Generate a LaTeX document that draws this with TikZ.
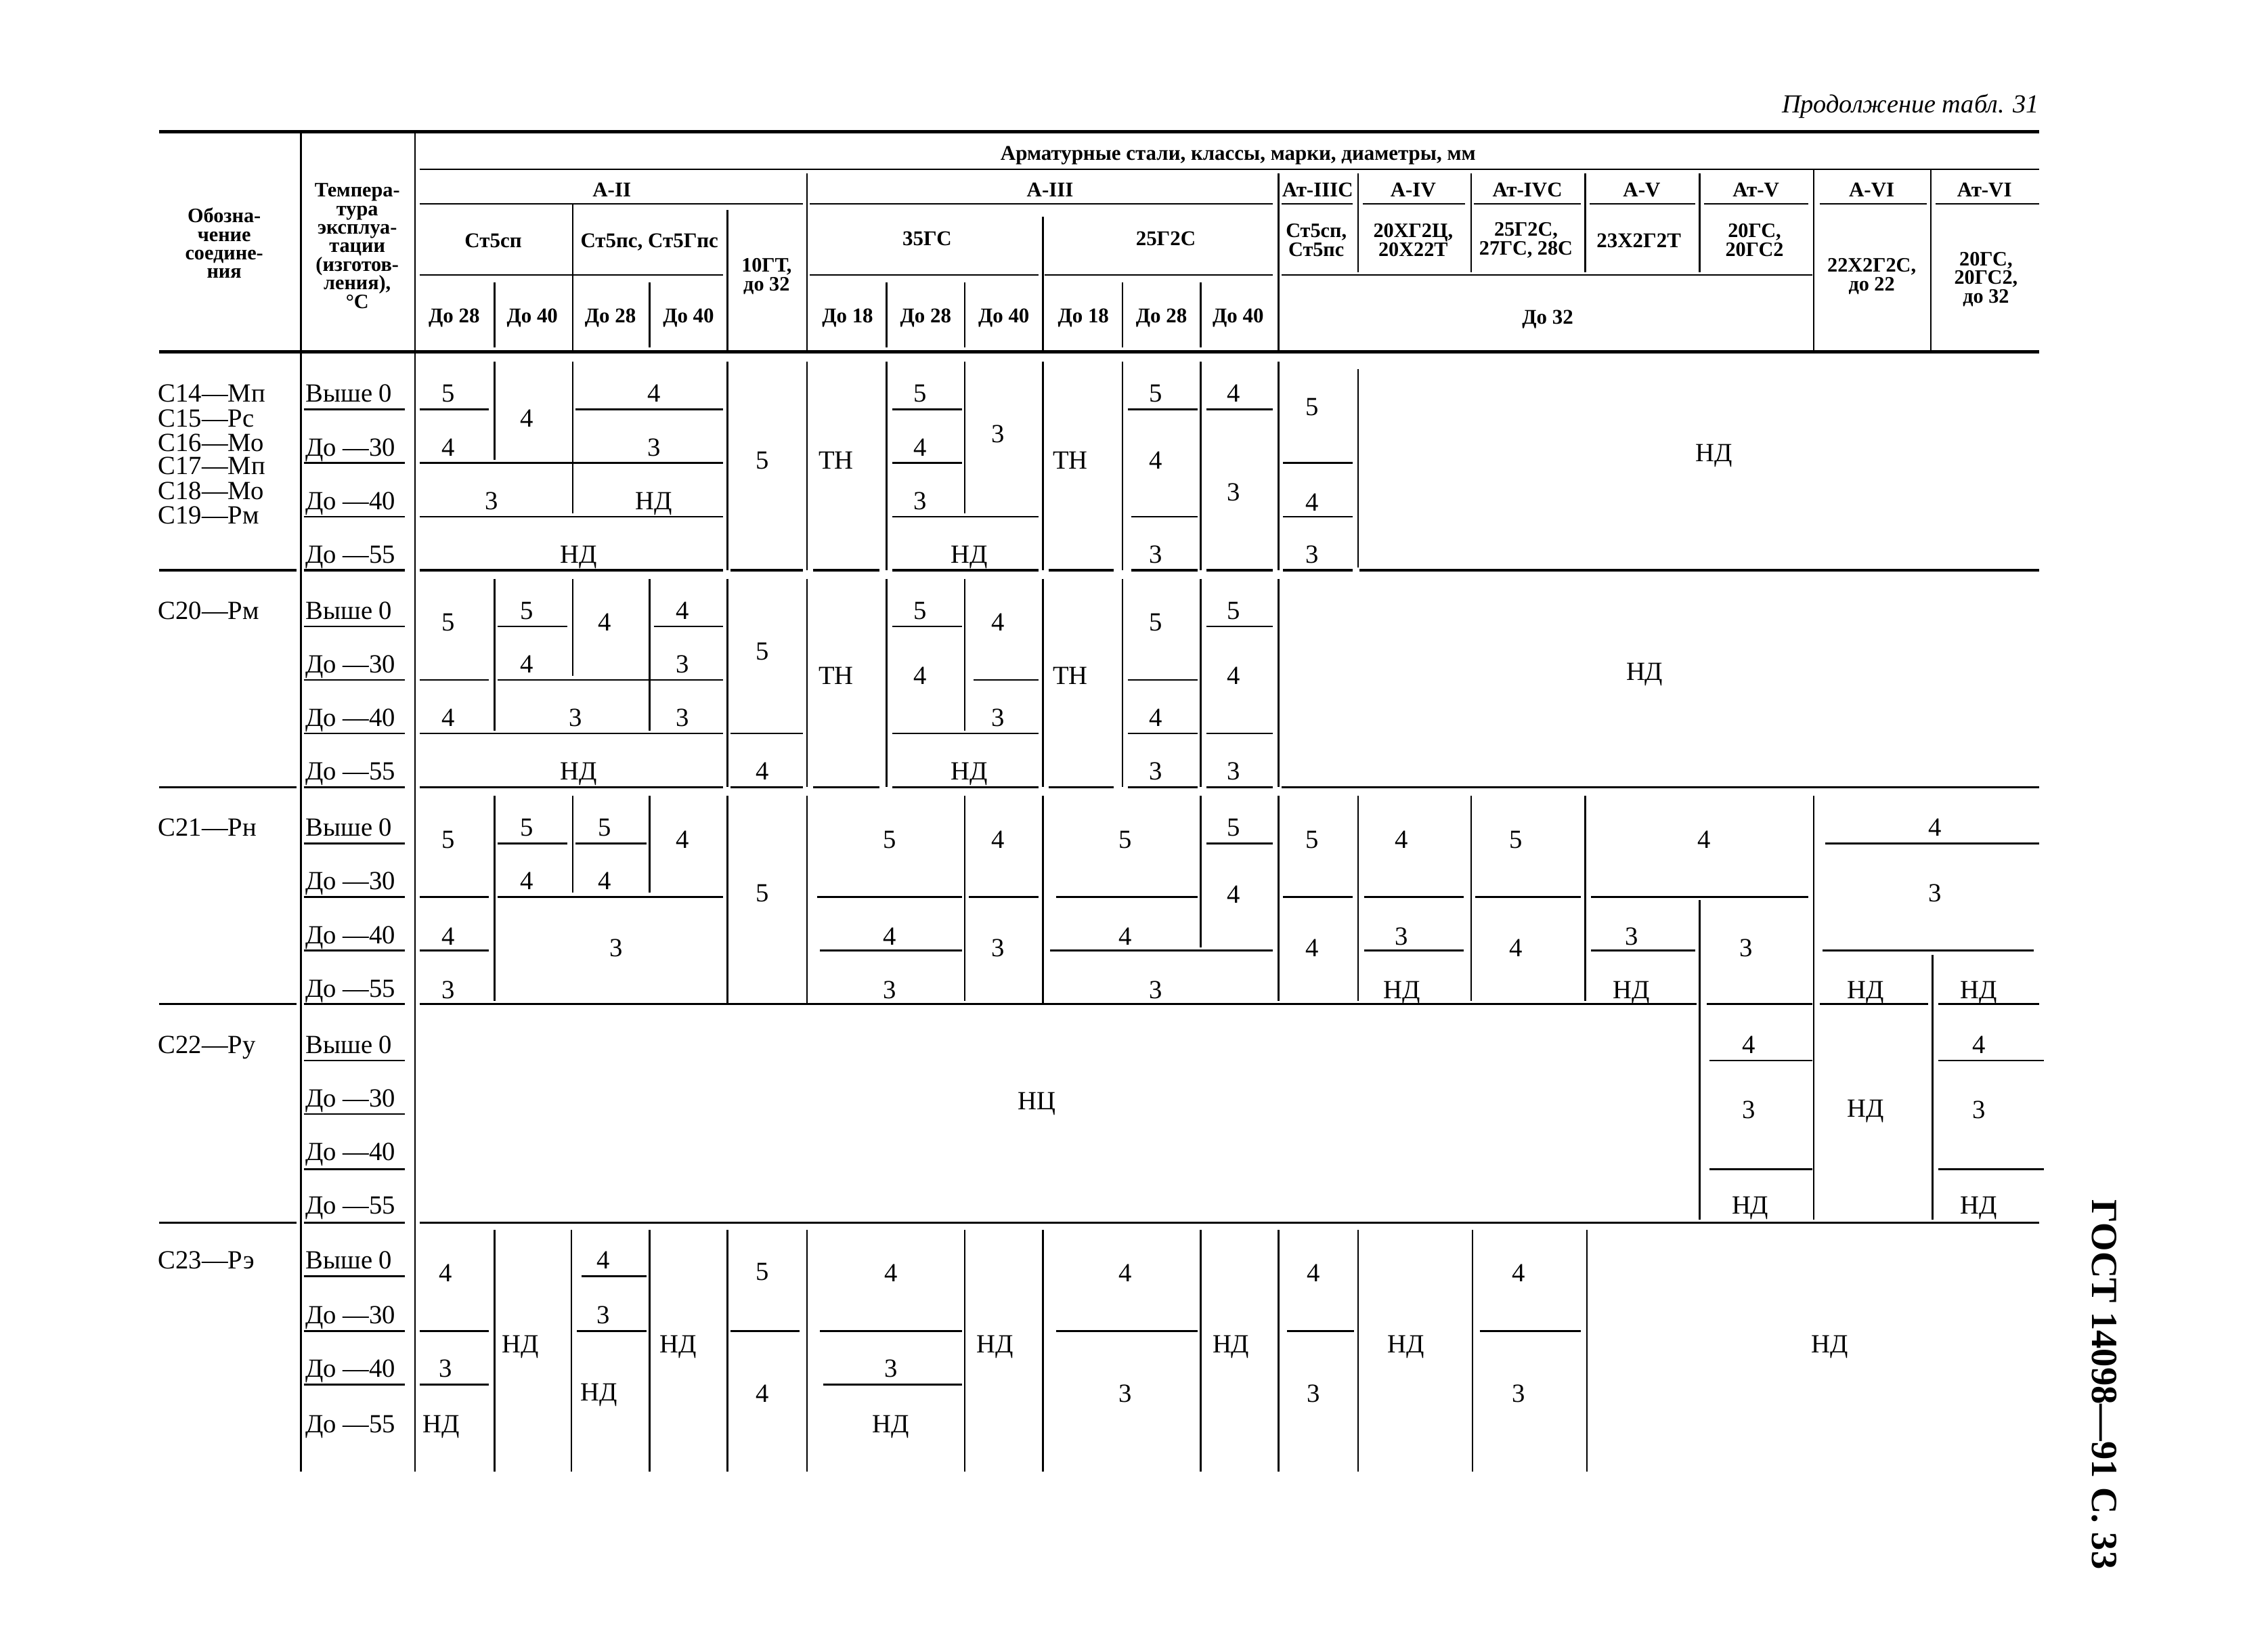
\documentclass[tikz,border=0pt]{standalone}
\usepackage{fontspec}
\setmainfont{Liberation Serif}
\newcounter{cn}
\tikzset{
  rl/.style={line width=0.7pt},
  bl/.style={line width=1.0pt},
  tk/.style={line width=1.5pt},
  cell/.style={inner sep=0pt, font=\fontsize{11}{12}\selectfont, text height=7.3pt, text depth=0pt},
  lab/.style={cell, anchor=west},
  hdc/.style={inner sep=0pt, font=\bfseries\fontsize{8.8}{9.4}\selectfont, text height=5.9pt, text depth=0pt},
  hdm/.style={inner sep=0pt, font=\bfseries\fontsize{8.6}{7.8}\selectfont, align=center},
}
\newcommand\tHL[3]{\draw[rl] (#1,#3) -- (#2,#3);}
\newcommand\tBL[3]{\draw[bl] (#1,#3) -- (#2,#3);}
\newcommand\tVL[3]{\draw[rl] (#1,#2) -- (#1,#3);}
\newcommand\tCell[3]{\stepcounter{cn}\node[cell] (c\thecn) at (#1,#2) {#3};}
\newcommand\tLab[3]{\stepcounter{cn}\node[lab] (c\thecn) at (#1,#2) {#3};}
\newcommand\tHd[3]{\stepcounter{cn}\node[hdc] (c\thecn) at (#1,#2) {#3};}
\newcommand\tHm[3]{\stepcounter{cn}\node[hdm] (c\thecn) at (#1,#2) {#3};}
\begin{document}
\begin{tikzpicture}[x=0.021365cm, y=-0.021365cm]
\useasboundingbox (0,0) rectangle (1568,1138);
% title
\node[inner sep=0pt, anchor=east, font=\itshape\fontsize{10.9}{12}\selectfont, text height=7.3pt, text depth=0pt] (title) at (1410,72) {Продолжение табл. 31};
% ---------- header ----------
\draw[tk] (110,91) -- (1410,91);
\draw[tk] (110,243) -- (1410,243);
\tVL{208}{91}{1017}
\tVL{287}{91}{1017}
\tHm{155}{168}{Обозна-\\чение\\соедине-\\ния}
\tHm{247}{170}{Темпера-\\тура\\эксплуа-\\тации\\(изготов-\\ления),\\°С}
\tHd{856}{106}{Арматурные стали, классы, марки, диаметры, мм}
\tHL{290}{1410}{117}
% class row
\tVL{558}{120}{243} \tVL{884}{120}{243}
\tVL{939}{120}{188} \tVL{1017}{120}{188} \tVL{1096}{120}{188} \tVL{1175}{120}{188}
\tVL{1254}{117}{243} \tVL{1335}{117}{243}
\tHd{423}{131}{А-II} \tHd{726}{131}{А-III} \tHd{911}{131}{Ат-IIIС}
\tHd{977}{131}{А-IV} \tHd{1056}{131}{Ат-IVС} \tHd{1135}{131}{А-V}
\tHd{1214}{131}{Ат-V} \tHd{1294}{131}{А-VI} \tHd{1372}{131}{Ат-VI}
\tHL{290}{555}{141} \tHL{560}{880}{141} \tHL{886}{935}{141} \tHL{942}{1013}{141}
\tHL{1019}{1093}{141} \tHL{1099}{1172}{141} \tHL{1178}{1250}{141}
\tHL{1258}{1332}{141} \tHL{1338}{1410}{141}
% grade row
\tVL{396}{141}{243} \tVL{503}{145}{243} \tVL{721}{150}{243}
\tHd{341}{166}{Ст5сп} \tHd{449}{166}{Ст5пс, Ст5Гпс}
\tHm{530}{191}{10ГТ,\\до 32}
\tHd{641}{165}{35ГС} \tHd{806}{165}{25Г2С}
\tHm{910}{166}{Ст5сп,\\Ст5пс} \tHm{977}{166}{20ХГ2Ц,\\20Х22Т}
\tHm{1055}{166}{25Г2С,\\27ГС, 28С} \tHd{1133}{166}{23Х2Г2Т}
\tHm{1213}{166}{20ГС,\\20ГС2}
\tHm{1294}{191}{22Х2Г2С,\\до 22} \tHm{1373}{193}{20ГС,\\20ГС2,\\до 32}
\tHL{290}{500}{190} \tHL{560}{718}{190} \tHL{722}{880}{190} \tHL{886}{1253}{190}
% size row
\tVL{342}{195}{240} \tVL{449}{195}{240} \tVL{613}{195}{240} \tVL{667}{195}{240}
\tVL{776}{195}{240} \tVL{830}{195}{240}
\tHd{314}{218}{До 28} \tHd{368}{218}{До 40} \tHd{422}{218}{До 28} \tHd{476}{218}{До 40}
\tHd{586}{218}{До 18} \tHd{640}{218}{До 28} \tHd{694}{218}{До 40}
\tHd{749}{218}{До 18} \tHd{803}{218}{До 28} \tHd{856}{218}{До 40}
\tHd{1070}{219}{До 32}
% ---------- body: common ----------
\foreach \y in {283,320,357,433,470,507,583,620,657,733,770,808,882,920,957} {\draw[rl] (210,\y) -- (280,\y);}
\foreach \b in {0,150,300,450} {
  \pgfmathsetmacro{\ya}{272+\b}\pgfmathsetmacro{\yb}{309+\b}\pgfmathsetmacro{\yc}{346+\b}\pgfmathsetmacro{\yd}{383+\b}
  \tLab{211}{\ya}{Выше 0} \tLab{211}{\yb}{До —30} \tLab{211}{\yc}{До —40} \tLab{211}{\yd}{До —55}
}
\tLab{211}{871}{Выше 0} \tLab{211}{909}{До —30} \tLab{211}{946}{До —40} \tLab{211}{984}{До —55}
\tLab{109}{272}{С14—Мп} \tLab{109}{289}{С15—Рс} \tLab{109}{306}{С16—Мо}
\tLab{109}{322}{С17—Мп} \tLab{109}{339}{С18—Мо} \tLab{109}{356}{С19—Рм}
\tLab{109}{422}{С20—Рм} \tLab{109}{572}{С21—Рн} \tLab{109}{722}{С22—Ру} \tLab{109}{871}{С23—Рэ}
% block separators
\tBL{110}{205}{394} \tBL{210}{280}{394} \tBL{290}{500}{394} \tBL{505}{555}{394} \tBL{562}{608}{394}
\tBL{617}{718}{394} \tBL{725}{770}{394} \tBL{782}{828}{394} \tBL{834}{880}{394} \tBL{887}{935}{394} \tBL{940}{1410}{394}
\tBL{110}{205}{544} \tBL{210}{280}{544} \tBL{290}{500}{544} \tBL{505}{555}{544} \tBL{562}{608}{544}
\tBL{617}{718}{544} \tBL{725}{770}{544} \tBL{780}{828}{544} \tBL{834}{880}{544} \tBL{886}{1410}{544}
\tBL{110}{205}{694} \tBL{210}{280}{694} \tBL{290}{1173}{694} \tBL{1180}{1253}{694} \tBL{1258}{1333}{694} \tBL{1340}{1410}{694}
\tBL{110}{205}{845} \tBL{210}{280}{845} \tBL{290}{1410}{845}
% ---------- block 1 ----------
\tVL{342}{250}{318} \tVL{396}{250}{355} \tVL{503}{250}{394} \tVL{558}{250}{394} \tVL{613}{250}{394}
\tVL{667}{250}{355} \tVL{721}{250}{394} \tVL{776}{250}{394} \tVL{830}{250}{394} \tVL{884}{250}{394} \tVL{939}{255}{392}
\tHL{290}{338}{283} \tHL{398}{500}{283} \tHL{290}{500}{320} \tHL{290}{500}{357}
\tHL{617}{665}{283} \tHL{617}{665}{320} \tHL{617}{718}{357}
\tHL{780}{828}{283} \tHL{782}{828}{357} \tHL{834}{880}{283}
\tHL{887}{935}{320} \tHL{887}{935}{357}
\tCell{310}{272}{5} \tCell{310}{309}{4} \tCell{364}{289}{4} \tCell{452}{272}{4} \tCell{452}{309}{3}
\tCell{340}{346}{3} \tCell{452}{346}{НД} \tCell{400}{383}{НД}
\tCell{527}{318}{5} \tCell{578}{318}{ТН}
\tCell{636}{272}{5} \tCell{636}{309}{4} \tCell{636}{346}{3} \tCell{690}{300}{3} \tCell{670}{383}{НД}
\tCell{740}{318}{ТН}
\tCell{799}{272}{5} \tCell{799}{318}{4} \tCell{799}{383}{3} \tCell{853}{272}{4} \tCell{853}{340}{3}
\tCell{907}{281}{5} \tCell{907}{347}{4} \tCell{907}{383}{3}
\tCell{1185}{313}{НД}
% ---------- block 2 ----------
\tVL{342}{400}{505} \tVL{396}{400}{467} \tVL{449}{400}{505} \tVL{503}{400}{544} \tVL{558}{400}{544}
\tVL{613}{400}{544} \tVL{667}{400}{505} \tVL{721}{400}{544} \tVL{776}{400}{544} \tVL{830}{400}{544} \tVL{884}{400}{544}
\tHL{290}{338}{470} \tHL{344}{392}{433} \tHL{344}{500}{470} \tHL{452}{500}{433} \tHL{290}{500}{507}
\tHL{505}{555}{507}
\tHL{617}{665}{433} \tHL{673}{718}{470} \tHL{617}{718}{507}
\tHL{780}{828}{470} \tHL{780}{828}{507} \tHL{834}{880}{433} \tHL{834}{880}{507}
\tCell{310}{430}{5} \tCell{310}{496}{4} \tCell{364}{422}{5} \tCell{364}{459}{4} \tCell{418}{430}{4}
\tCell{472}{422}{4} \tCell{472}{459}{3} \tCell{398}{496}{3} \tCell{472}{496}{3} \tCell{400}{533}{НД}
\tCell{527}{450}{5} \tCell{527}{533}{4} \tCell{578}{467}{ТН}
\tCell{636}{422}{5} \tCell{636}{467}{4} \tCell{690}{430}{4} \tCell{690}{496}{3} \tCell{670}{533}{НД}
\tCell{740}{467}{ТН}
\tCell{799}{430}{5} \tCell{799}{496}{4} \tCell{799}{533}{3}
\tCell{853}{422}{5} \tCell{853}{467}{4} \tCell{853}{533}{3}
\tCell{1137}{464}{НД}
% ---------- block 3 ----------
\tVL{342}{550}{692} \tVL{396}{550}{617} \tVL{449}{550}{617} \tVL{503}{550}{694} \tVL{558}{550}{694}
\tVL{667}{550}{692} \tVL{721}{550}{694} \tVL{830}{550}{655} \tVL{884}{550}{692} \tVL{939}{550}{692}
\tVL{1017}{550}{692} \tVL{1096}{550}{692} \tVL{1175}{622}{843} \tVL{1254}{550}{843} \tVL{1336}{660}{843}
\tHL{290}{338}{620} \tHL{290}{338}{657} \tHL{344}{392}{583} \tHL{398}{447}{583} \tHL{344}{500}{620}
\tHL{565}{665}{620} \tHL{567}{665}{657} \tHL{670}{718}{620}
\tHL{730}{828}{620} \tHL{726}{880}{657} \tHL{834}{880}{583}
\tHL{887}{935}{620} \tHL{943}{1012}{620} \tHL{943}{1012}{657} \tHL{1020}{1093}{620}
\tHL{1100}{1250}{620} \tHL{1100}{1172}{657}
\tHL{1262}{1410}{583} \tHL{1260}{1406}{657}
\tCell{310}{580}{5} \tCell{310}{647}{4} \tCell{310}{684}{3} \tCell{364}{572}{5} \tCell{364}{609}{4}
\tCell{418}{572}{5} \tCell{418}{609}{4} \tCell{472}{580}{4} \tCell{426}{655}{3}
\tCell{527}{617}{5}
\tCell{615}{580}{5} \tCell{615}{647}{4} \tCell{615}{684}{3} \tCell{690}{580}{4} \tCell{690}{655}{3}
\tCell{778}{580}{5} \tCell{778}{647}{4} \tCell{799}{684}{3} \tCell{853}{572}{5} \tCell{853}{618}{4}
\tCell{907}{580}{5} \tCell{907}{655}{4}
\tCell{969}{580}{4} \tCell{969}{647}{3} \tCell{969}{684}{НД}
\tCell{1048}{580}{5} \tCell{1048}{655}{4}
\tCell{1178}{580}{4} \tCell{1128}{647}{3} \tCell{1128}{684}{НД} \tCell{1207}{655}{3}
\tCell{1338}{572}{4} \tCell{1338}{617}{3} \tCell{1290}{684}{НД} \tCell{1368}{684}{НД}
% ---------- block 4 ----------
\tHL{1182}{1253}{733} \tHL{1182}{1253}{808} \tHL{1340}{1413}{733} \tHL{1340}{1413}{808}
\tCell{717}{761}{НЦ}
\tCell{1209}{722}{4} \tCell{1209}{767}{3} \tCell{1210}{833}{НД}
\tCell{1290}{766}{НД}
\tCell{1368}{722}{4} \tCell{1368}{767}{3} \tCell{1368}{833}{НД}
% ---------- block 5 ----------
\foreach \x in {342,395,449,503,558,667,721,830,884,939,1018,1097} {\draw[rl] (\x,850) -- (\x,1017);}
\tHL{290}{338}{920} \tHL{290}{338}{957} \tHL{402}{447}{882} \tHL{399}{447}{920}
\tHL{505}{553}{920} \tHL{567}{665}{920} \tHL{569}{665}{957} \tHL{730}{828}{920}
\tHL{890}{936}{920} \tHL{1023}{1093}{920}
\tCell{308}{880}{4} \tCell{308}{946}{3} \tCell{305}{984}{НД} \tCell{360}{929}{НД}
\tCell{417}{871}{4} \tCell{417}{909}{3} \tCell{414}{962}{НД} \tCell{469}{929}{НД}
\tCell{527}{879}{5} \tCell{527}{963}{4}
\tCell{616}{880}{4} \tCell{616}{946}{3} \tCell{616}{984}{НД} \tCell{688}{929}{НД}
\tCell{778}{880}{4} \tCell{778}{963}{3} \tCell{851}{929}{НД}
\tCell{908}{880}{4} \tCell{908}{963}{3} \tCell{972}{929}{НД}
\tCell{1050}{880}{4} \tCell{1050}{963}{3}
\tCell{1265}{929}{НД}
% side text
\node[inner sep=0pt, rotate=-90, font=\bfseries\fontsize{15.5}{16}\selectfont] (gost) at (1455,957) {ГОСТ 14098—91 С. 33};
\end{tikzpicture}
\end{document}
